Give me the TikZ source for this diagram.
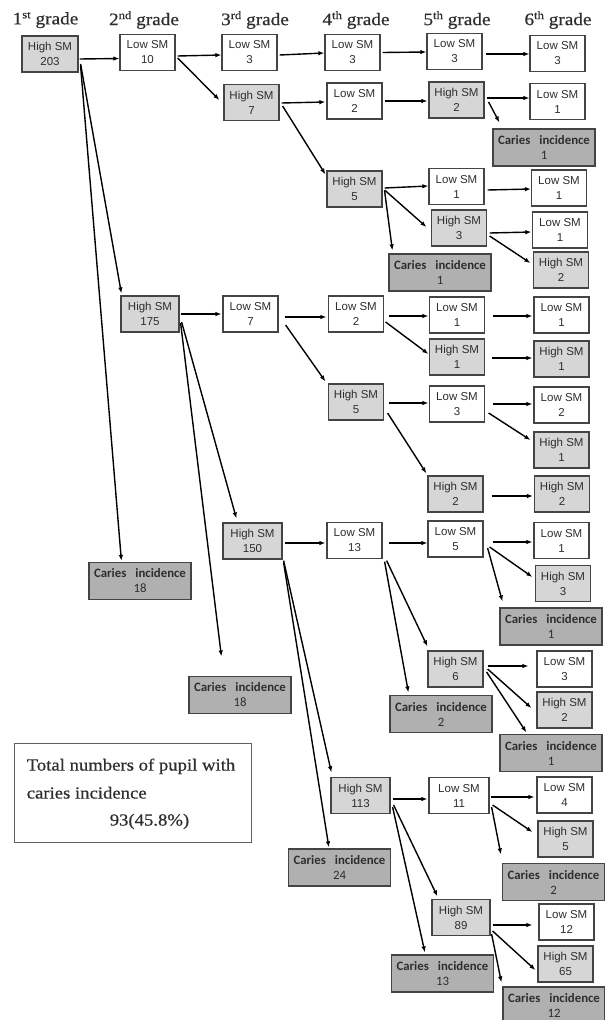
\documentclass[tikz,border=0pt]{standalone}
\usepackage{fontspec}
\setmainfont{Liberation Sans}
\newfontfamily\headfont[FakeStretch=1.1,FakeBold=0.6]{Liberation Serif}
\newfontfamily\carfont{Carlito}
\usetikzlibrary{arrows.meta}
\definecolor{hi}{HTML}{D6D6D6}
\definecolor{ca}{HTML}{B0B0B0}
\definecolor{bd}{HTML}{444444}
\definecolor{tx}{HTML}{2E2E2E}
\newcommand\carlab[1]{{\bfseries Caries\hspace{9pt}incidence}\\#1}
\newcommand\gradehead[2]{#1\raisebox{6pt}{\fontsize{11.5}{12}\selectfont #2} grade}
\begin{document}
\begin{tikzpicture}[x=1pt,y=-1pt,
 box/.style={draw=bd,line width=1.2pt,minimum width=55pt,minimum height=36pt,inner sep=0pt,align=center,text=tx,font=\fontsize{11.5}{15}\selectfont},
 low/.style={box,fill=white},
 high/.style={box,fill=hi},
 car/.style={box,fill=ca,minimum width=102pt,minimum height=37pt,font=\carfont\fontsize{12.8}{15}\selectfont},
 arr/.style={-{Latex[length=6pt,width=4.5pt]},line width=1.4pt,black},
 head/.style={font=\headfont\fontsize{17.5}{20}\selectfont,text=tx,inner sep=0pt},
 tot/.style={font=\headfont\fontsize{17}{20}\selectfont,text=tx,inner sep=0pt,anchor=base west}]
\useasboundingbox (0,0) rectangle (605,1020);

% headings
\node[head] (g1) at (45.5,20) {\gradehead{1}{st}};
\node[head] (g2) at (144,20) {\gradehead{2}{nd}};
\node[head] (g3) at (255,20) {\gradehead{3}{rd}};
\node[head] (g4) at (356,20) {\gradehead{4}{th}};
\node[head] (g5) at (457,20) {\gradehead{5}{th}};
\node[head] (g6) at (558,20) {\gradehead{6}{th}};

% boxes
\node[high,minimum width=56pt] (h1) at (50,54) {High SM\\203};
\node[low] (l2a) at (147.5,52.5) {Low SM\\10};
\node[low] (l3a) at (249.5,52.5) {Low SM\\3};
\node[high] (h3a) at (251.5,102.5) {High SM\\7};
\node[low] (l4a) at (352.5,52.5) {Low SM\\3};
\node[low] (l5a) at (454.5,51.5) {Low SM\\3};
\node[low] (l6a) at (557.5,53.5) {Low SM\\3};
\node[low] (l4b) at (354.5,101) {Low SM\\2};
\node[high] (h5a) at (456.5,100) {High SM\\2};
\node[low] (l6b) at (557.5,101.5) {Low SM\\1};
\node[car] (c6a) at (544,147.5) {\carlab{1}};
\node[high] (h4a) at (354.5,189) {High SM\\5};
\node[low] (l5b) at (456.5,186.5) {Low SM\\1};
\node[low] (l6c) at (559,188) {Low SM\\1};
\node[high] (h5b) at (459,228) {High SM\\3};
\node[low] (l6d) at (560,230) {Low SM\\1};
\node[high] (h6a) at (561,270) {High SM\\2};
\node[car] (c4a) at (440,272.5) {\carlab{1}};
\node[high,minimum width=58pt] (h2a) at (150,314) {High SM\\175};
\node[low] (l3b) at (250.5,314) {Low SM\\7};
\node[low] (l4c) at (356,314) {Low SM\\2};
\node[low] (l5c) at (457,315) {Low SM\\1};
\node[low] (l6e) at (561.5,315) {Low SM\\1};
\node[high] (h5c) at (457,357) {High SM\\1};
\node[high] (h6b) at (561.5,359) {High SM\\1};
\node[high] (h4b) at (356,402) {High SM\\5};
\node[low] (l5d) at (457,404) {Low SM\\3};
\node[low] (l6f) at (561.5,405) {Low SM\\2};
\node[high] (h6c) at (561.5,450) {High SM\\1};
\node[high] (h5d) at (455.5,494) {High SM\\2};
\node[high] (h6d) at (562,494) {High SM\\2};
\node[high,minimum width=59pt] (h3b) at (252.5,541) {High SM\\150};
\node[low] (l4d) at (354.5,540.5) {Low SM\\13};
\node[low] (l5e) at (455.5,539) {Low SM\\5};
\node[low] (l6g) at (561.5,540.5) {Low SM\\1};
\node[high] (h6e) at (563,583.5) {High SM\\3};
\node[car] (c6b) at (551,626.5) {\carlab{1}};
\node[car] (c2a) at (140,581) {\carlab{18}};
\node[car] (c3a) at (240,695) {\carlab{18}};
\node[high] (h5e) at (455.5,669) {High SM\\6};
\node[low] (l6h) at (564.5,669) {Low SM\\3};
\node[high] (h6f) at (564.5,710) {High SM\\2};
\node[car] (c4b) at (441,714) {\carlab{2}};
\node[car] (c6c) at (551,753) {\carlab{1}};
\node[high,minimum width=59pt] (h4c) at (360.5,795.5) {High SM\\113};
\node[low,minimum width=60pt] (l5f) at (459,795.5) {Low SM\\11};
\node[low] (l6i) at (564.5,795) {Low SM\\4};
\node[high] (h6g) at (565.5,839) {High SM\\5};
\node[car] (c4c) at (339.5,867.5) {\carlab{24}};
\node[car] (c6d) at (553.5,882) {\carlab{2}};
\node[high,minimum width=58pt] (h5f) at (461,917.5) {High SM\\89};
\node[low] (l6j) at (566.5,922) {Low SM\\12};
\node[high] (h6h) at (565.5,964) {High SM\\65};
\node[car] (c4d) at (442.5,973.5) {\carlab{13}};
\node[car] (c6e) at (554,1005.5) {\carlab{12}};

% total box
\node[draw=bd!85,line width=0.9pt,minimum width=237pt,minimum height=99pt,inner sep=0pt] (total) at (132.5,792.5) {};
\node[tot] (t1) at ([shift={(13,28)}]total.north west) {Total numbers of pupil with};
\node[tot] (t2) at ([shift={(13,56)}]total.north west) {caries incidence};
\node[tot] (t3) at ([shift={(96,83)}]total.north west) {93(45.8\%)};

% arrows
\draw[arr] ([shift={(1,5)}]h1.east) -- ([shift={(0,6)}]l2a.west);
\draw[arr] ([shift={(2,10)}]h1.east) -- ([shift={(1,-2)}]h2a.north west);
\draw[arr] ([shift={(2,12)}]h1.east) -- ([shift={(33,-1)}]c2a.north west);
\draw[arr] ([shift={(2,3.5)}]l2a.east) -- ([shift={(0,2.5)}]l3a.west);
\draw[arr] ([shift={(2,5.5)}]l2a.east) -- ([shift={(-4,-2.5)}]h3a.west);
\draw[arr] ([shift={(2,2.5)}]l3a.east) -- ([shift={(0,0.5)}]l4a.west);
\draw[arr] ([shift={(2,0.5)}]h3a.east) -- ([shift={(-1,1)}]l4b.west);
\draw[arr] ([shift={(3,3.5)}]h3a.east) -- ([shift={(-1,4)}]h4a.north west);
\draw[arr] ([shift={(2,0)}]l4a.east) -- ([shift={(0,0.5)}]l5a.west);
\draw[arr] ([shift={(3,2.5)}]l5a.east) -- ([shift={(0,0.5)}]l6a.west);
\draw[arr] ([shift={(2,0)}]l4b.east) -- ([shift={(-1,1)}]h5a.west);
\draw[arr] ([shift={(2,-2)}]h5a.east) -- ([shift={(0,-3.5)}]l6b.west);
\draw[arr] ([shift={(4,2)}]h5a.east) -- ([shift={(7,-6)}]c6a.north west);
\draw[arr] ([shift={(2,-1)}]h4a.east) -- ([shift={(0,-0.5)}]l5b.west);
\draw[arr] ([shift={(2,1)}]h4a.east) -- ([shift={(-4.5,-1)}]h5b.west);
\draw[arr] ([shift={(2,2)}]h4a.east) -- ([shift={(4,-3)}]c4a.north west);
\draw[arr] ([shift={(3,3.5)}]l5b.east) -- ([shift={(0,1)}]l6c.west);
\draw[arr] ([shift={(2.5,5)}]h5b.east) -- ([shift={(-0.5,2)}]l6d.west);
\draw[arr] ([shift={(2.5,8)}]h5b.east) -- ([shift={(-2.5,-7)}]h6a.west);
\draw[arr] ([shift={(1,0)}]h2a.east) -- ([shift={(-1,0)}]l3b.west);
\draw[arr] ([shift={(2,8)}]h2a.east) -- ([shift={(14,-4)}]h3b.north west);
\draw[arr] ([shift={(1,9)}]h2a.east) -- ([shift={(33,-19.5)}]c3a.north west);
\draw[arr] ([shift={(6,3)}]l3b.east) -- ([shift={(-1.5,3)}]l4c.west);
\draw[arr] ([shift={(7,11)}]l3b.east) -- ([shift={(-2.5,-2)}]h4b.north west);
\draw[arr] ([shift={(5,2)}]l4c.east) -- ([shift={(-0.5,1)}]l5c.west);
\draw[arr] ([shift={(1.5,8)}]l4c.east) -- ([shift={(-0.5,-3)}]h5c.west);
\draw[arr] ([shift={(7.5,1)}]l5c.east) -- ([shift={(-1,1)}]l6e.west);
\draw[arr] ([shift={(6.5,1)}]h5c.east) -- ([shift={(-1,-1)}]h6b.west);
\draw[arr] ([shift={(4.5,1)}]h4b.east) -- ([shift={(-0.5,-1)}]l5d.west);
\draw[arr] ([shift={(3.5,11)}]h4b.east) -- ([shift={(-1,-2)}]h5d.north west);
\draw[arr] ([shift={(7.5,0)}]l5d.east) -- ([shift={(-1,-1)}]l6f.west);
\draw[arr] ([shift={(3.5,9)}]l5d.east) -- ([shift={(-3,-10)}]h6c.west);
\draw[arr] ([shift={(8,2)}]h5d.east) -- ([shift={(-1,2)}]h6d.west);
\draw[arr] ([shift={(2,2)}]h3b.east) -- ([shift={(-1,2.5)}]l4d.west);
\draw[arr] ([shift={(1,1)}]h3b.south east) -- ([shift={(1,-4.5)}]h4c.north west);
\draw[arr] ([shift={(1,3)}]h3b.south east) -- ([shift={(41,-1)}]c4c.north west);
\draw[arr] ([shift={(6,2.5)}]l4d.east) -- ([shift={(0,4)}]l5e.west);
\draw[arr] ([shift={(4,1.5)}]l4d.south east) -- ([shift={(0,-4)}]h5e.north west);
\draw[arr] ([shift={(2,2.5)}]l4d.south east) -- ([shift={(19,-2.5)}]c4b.north west);
\draw[arr] ([shift={(9,3)}]l5e.east) -- ([shift={(-1,1.5)}]l6g.west);
\draw[arr] ([shift={(6,8)}]l5e.east) -- ([shift={(-2.5,-6.5)}]h6e.west);
\draw[arr] ([shift={(4,9)}]l5e.east) -- ([shift={(3,-6)}]c6b.north west);
\draw[arr] ([shift={(4,-3)}]h5e.east) -- ([shift={(-8,-3)}]l6h.west);
\draw[arr] ([shift={(4,0)}]h5e.east) -- ([shift={(-5,-2)}]h6f.west);
\draw[arr] ([shift={(3,3)}]h5e.east) -- ([shift={(27,-1.5)}]c6c.north west);
\draw[arr] ([shift={(2,3.5)}]h4c.east) -- ([shift={(-1,3.5)}]l5f.west);
\draw[arr] ([shift={(3,9.5)}]h4c.east) -- ([shift={(6,-2.5)}]h5f.north west);
\draw[arr] ([shift={(2,11.5)}]h4c.east) -- ([shift={(34,-2)}]c4d.north west);
\draw[arr] ([shift={(1,1.5)}]l5f.east) -- ([shift={(-2,2)}]l6i.west);
\draw[arr] ([shift={(3,9.5)}]l5f.east) -- ([shift={(-5,-7)}]h6g.west);
\draw[arr] ([shift={(2,11.5)}]l5f.east) -- ([shift={(-1,-8.5)}]c6d.north west);
\draw[arr] ([shift={(2,7.5)}]h5f.east) -- ([shift={(-6,3)}]l6j.west);
\draw[arr] ([shift={(2,13.5)}]h5f.east) -- ([shift={(-2,6)}]h6h.west);
\draw[arr] ([shift={(1,16.5)}]h5f.east) -- ([shift={(-1,-4)}]c6e.north west);
\end{tikzpicture}
\end{document}
